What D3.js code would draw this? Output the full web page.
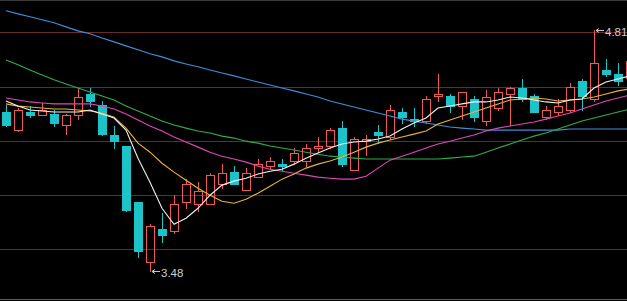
<!DOCTYPE html>
<html><head><meta charset="utf-8">
<script src="https://cdn.jsdelivr.net/npm/d3@7"></script>
<style>html,body{margin:0;padding:0;background:#000;overflow:hidden}</style>
</head><body>
<svg id="c" width="627" height="301"></svg>
<script>
const days = d3.range(1, 54);
const open  = [4.36,4.26,4.36,4.34,4.35,4.29,4.34,4.46,4.40,4.23,4.17,3.86,3.53,3.71,3.70,3.86,3.85,3.85,3.96,4.03,3.93,4.00,4.06,4.07,4.09,4.09,4.16,4.17,4.27,4.04,4.20,4.25,4.22,4.36,4.32,4.31,4.45,4.45,4.39,4.43,4.31,4.38,4.46,4.49,4.45,4.33,4.36,4.37,4.53,4.43,4.59,4.57,4.55];
const high  = [4.40,4.38,4.39,4.41,4.37,4.35,4.49,4.49,4.42,4.28,4.17,3.86,3.74,3.80,3.90,3.99,3.97,4.02,4.07,4.06,4.05,4.10,4.11,4.10,4.16,4.18,4.22,4.27,4.31,4.22,4.23,4.29,4.40,4.38,4.38,4.45,4.57,4.46,4.47,4.45,4.48,4.49,4.50,4.54,4.46,4.39,4.43,4.52,4.54,4.81,4.65,4.63,4.66];
const low   = [4.28,4.255,4.33,4.34,4.28,4.24,4.32,4.39,4.23,4.16,3.81,3.56,3.48,3.64,3.69,3.83,3.81,3.85,3.94,3.96,3.93,4.00,4.05,4.04,4.07,4.06,4.14,4.16,4.06,4.04,4.12,4.19,4.21,4.30,4.28,4.30,4.42,4.36,4.32,4.31,4.29,4.37,4.29,4.42,4.36,4.32,4.34,4.36,4.37,4.42,4.56,4.51,4.53];
const close = [4.29,4.37,4.34,4.37,4.30,4.34,4.44,4.42,4.24,4.20,3.82,3.59,3.73,3.68,3.85,3.96,3.92,4.01,4.02,3.96,4.02,4.07,4.09,4.06,4.13,4.16,4.17,4.26,4.07,4.21,4.21,4.23,4.37,4.33,4.31,4.43,4.46,4.39,4.47,4.33,4.44,4.47,4.49,4.43,4.36,4.37,4.39,4.50,4.45,4.63,4.57,4.53,4.64];
const ma5  = [4.420,4.392,4.370,4.365,4.359,4.359,4.359,4.370,4.348,4.326,4.259,4.104,3.971,3.827,3.738,3.772,3.827,3.899,3.955,3.977,3.993,4.016,4.032,4.043,4.071,4.104,4.132,4.160,4.182,4.193,4.198,4.210,4.226,4.265,4.298,4.326,4.381,4.392,4.404,4.415,4.415,4.426,4.442,4.437,4.426,4.415,4.409,4.426,4.431,4.492,4.525,4.542,4.559];
const ma10 = [4.404,4.392,4.387,4.381,4.376,4.376,4.370,4.365,4.354,4.331,4.270,4.187,4.137,4.076,4.027,3.982,3.938,3.899,3.866,3.855,3.877,3.910,3.949,3.988,4.016,4.049,4.071,4.088,4.110,4.137,4.165,4.187,4.204,4.221,4.237,4.254,4.293,4.315,4.337,4.359,4.381,4.404,4.426,4.431,4.437,4.431,4.420,4.426,4.431,4.442,4.459,4.476,4.487];
const ma20 = [4.437,4.426,4.415,4.409,4.404,4.404,4.404,4.404,4.392,4.376,4.348,4.315,4.282,4.254,4.221,4.193,4.165,4.137,4.115,4.099,4.082,4.060,4.043,4.032,4.021,4.010,3.999,3.993,3.988,3.988,4.004,4.049,4.093,4.115,4.137,4.160,4.182,4.198,4.215,4.232,4.254,4.270,4.282,4.293,4.304,4.320,4.337,4.354,4.376,4.398,4.420,4.437,4.453];
const ma30 = [4.647,4.620,4.592,4.564,4.537,4.514,4.492,4.470,4.448,4.426,4.392,4.365,4.337,4.309,4.287,4.270,4.254,4.243,4.226,4.215,4.198,4.187,4.171,4.160,4.149,4.137,4.126,4.115,4.110,4.104,4.099,4.099,4.099,4.099,4.099,4.099,4.099,4.104,4.110,4.115,4.137,4.160,4.182,4.204,4.226,4.243,4.265,4.287,4.309,4.326,4.343,4.359,4.376];
const ma60 = [4.919,4.902,4.886,4.869,4.853,4.830,4.808,4.792,4.769,4.747,4.725,4.703,4.681,4.664,4.642,4.625,4.609,4.592,4.575,4.559,4.542,4.525,4.509,4.492,4.476,4.459,4.442,4.420,4.404,4.387,4.370,4.354,4.337,4.320,4.309,4.298,4.287,4.276,4.270,4.265,4.259,4.259,4.259,4.259,4.259,4.259,4.259,4.265,4.265,4.265,4.265,4.265,4.265];
const gridTicks = [3.6, 3.9, 4.2, 4.5, 4.8];

const W = 627, H = 301;
const svg = d3.select("#c");
svg.append("rect").attr("width", W).attr("height", H).attr("fill", "#000");

const x = d3.scaleLinear().domain([0, days.length - 1]).range([6, 6 + 12 * (days.length - 1)]);
const y = d3.scaleLinear().domain([3.6, 4.8]).range([249.3, 32.3]);
const py = v => Math.round(y(v));

// borders
svg.append("line").attr("x1", 0).attr("x2", W).attr("y1", 0.5).attr("y2", 0.5).attr("stroke", "#3a3a3a");
svg.append("line").attr("x1", 0).attr("x2", W).attr("y1", 299.5).attr("y2", 299.5).attr("stroke", "#5a5a5a");

// grid
svg.append("g").selectAll("line").data(gridTicks).join("line")
  .attr("x1", 0).attr("x2", W)
  .attr("y1", d => py(d) + 0.5).attr("y2", d => py(d) + 0.5)
  .attr("stroke", "#6a2a2c").attr("stroke-width", 1);

const UP = "#f05858", DOWN = "#1cc3c9";
const data = days.map((d, i) => ({ i, o: open[i], h: high[i], l: low[i], c: close[i] }));
const cg = svg.append("g");
data.forEach(d => {
  const cx = Math.round(x(d.i));
  const top = py(Math.max(d.o, d.c)), bot = py(Math.min(d.o, d.c));
  const hy = py(d.h), ly = py(d.l);
  if (d.c >= d.o) {
    cg.append("line").attr("x1", cx + 0.5).attr("x2", cx + 0.5).attr("y1", hy).attr("y2", top).attr("stroke", UP);
    cg.append("line").attr("x1", cx + 0.5).attr("x2", cx + 0.5).attr("y1", bot + 1).attr("y2", ly + 1).attr("stroke", UP);
    if (bot - top < 1) {
      cg.append("line").attr("x1", cx - 4).attr("x2", cx + 5).attr("y1", top + 0.5).attr("y2", top + 0.5).attr("stroke", UP);
    } else {
      cg.append("rect").attr("x", cx - 3.5).attr("y", top + 0.5).attr("width", 8).attr("height", bot - top)
        .attr("fill", "none").attr("stroke", UP);
    }
  } else {
    cg.append("line").attr("x1", cx + 0.5).attr("x2", cx + 0.5).attr("y1", hy).attr("y2", ly + 1).attr("stroke", DOWN);
    cg.append("rect").attr("x", cx - 4).attr("y", top).attr("width", 9).attr("height", Math.max(1, bot - top + 1))
      .attr("fill", DOWN);
  }
});

const lines = [
  { v: ma60, c: "#3f8fdc" },
  { v: ma30, c: "#2fae4c" },
  { v: ma20, c: "#e046b8" },
  { v: ma10, c: "#e8b43e" },
  { v: ma5,  c: "#f2f2f2" }
];
const lg = d3.line().x((v, i) => x(i)).y(v => y(v));
lines.forEach(L => {
  svg.append("path").attr("d", lg(L.v)).attr("fill", "none").attr("stroke", L.c).attr("stroke-width", 1.1);
});

// extreme markers
const fmt = d3.format(".2f");
const hiI = d3.maxIndex(high), loI = d3.minIndex(low);
function marker(i, v) {
  const cx = Math.round(x(i)) + 1;
  const yy = py(v) + 0.5;
  const g = svg.append("g").attr("stroke", "#c8c8c8").attr("fill", "none");
  g.append("path").attr("d", `M${cx + 1},${yy}H${cx + 9}M${cx + 1},${yy}l3,-2M${cx + 1},${yy}l3,2`);
  svg.append("text").attr("x", cx + 10).attr("y", yy + 5).attr("fill", "#cfcfcf")
    .attr("font-family", "Liberation Sans, Arial, sans-serif").attr("font-size", 11.5).text(fmt(v));
}
marker(hiI, high[hiI]);
marker(loI, low[loI]);
</script>
</body></html>
